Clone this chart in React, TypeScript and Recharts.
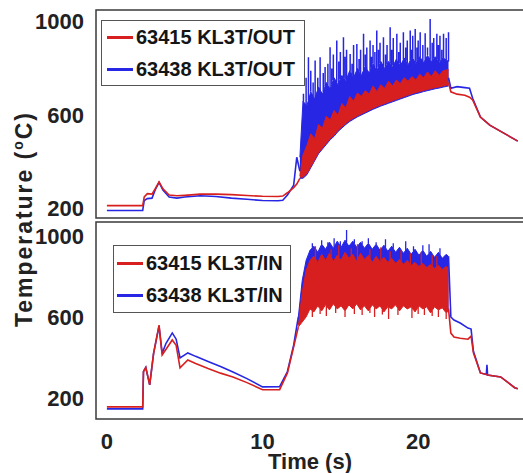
import {
  Area,
  ComposedChart,
  Label,
  Legend,
  Line,
  ReferenceArea,
  XAxis,
  YAxis,
} from "recharts";

const RED = "#d81f1f";
const BLUE = "#2626e4";
const AXIS = "#3a3a3a";
const FONT = "'Liberation Sans', Arial, sans-serif";

// ---------- top panel: KL3T/OUT ----------
const outPreT = [0, 2.3, 2.4, 2.6, 2.9, 3.1, 3.35, 3.6, 4.0, 4.5, 5, 6, 7, 8, 9, 10, 11, 11.3, 11.6, 12.0, 12.2, 12.4];
const outPreRed = [213, 213, 250, 264, 262, 285, 315, 285, 258, 255, 257, 262, 262, 260, 256, 253, 252, 254, 268, 290, 305, 330];
const outPreBlue = [192, 192, 235, 243, 245, 280, 312, 280, 250, 245, 250, 255, 252, 245, 240, 235, 234, 236, 258, 300, 420, 360];

const outBandT = [12.4, 12.6, 12.85, 13.1, 13.35, 13.6, 13.85, 14.1, 14.35, 14.6, 14.85, 15.1, 15.35, 15.6, 15.85, 16.1, 16.35, 16.6, 16.85, 17.1, 17.35, 17.6, 17.85, 18.1, 18.35, 18.6, 18.85, 19.1, 19.35, 19.6, 19.85, 20.1, 20.35, 20.6, 20.85, 21.1, 21.35, 21.6, 21.95];
const outRedLo = [335, 335, 350, 380, 410, 440, 460, 480, 500, 515, 535, 550, 565, 578, 588, 598, 606, 614, 622, 630, 637, 644, 650, 656, 662, 668, 674, 680, 686, 692, 697, 701, 706, 710, 714, 718, 721, 725, 730];
const outRedHi = [340, 430, 470, 520, 500, 560, 545, 595, 580, 620, 600, 650, 630, 680, 660, 695, 680, 705, 690, 725, 700, 730, 715, 745, 725, 750, 735, 760, 745, 765, 750, 775, 760, 785, 765, 790, 770, 790, 795];
const outBlueLo = [330, 330, 345, 375, 405, 435, 455, 475, 495, 510, 530, 545, 560, 573, 583, 593, 601, 609, 617, 625, 632, 639, 645, 651, 657, 663, 669, 675, 681, 687, 692, 696, 701, 705, 709, 713, 716, 720, 725];
const outBlueHi = [420, 660, 640, 700, 670, 720, 690, 740, 710, 760, 730, 770, 745, 790, 760, 800, 770, 810, 780, 820, 790, 830, 800, 830, 805, 840, 810, 845, 815, 850, 820, 850, 825, 855, 830, 850, 825, 845, 830];

const outSpikeT = [12.63, 12.8, 12.95, 13.1, 13.25, 13.38, 13.55, 13.7, 13.9, 14.02, 14.2, 14.34, 14.45, 14.55, 14.77, 14.9, 15.0, 15.2, 15.3, 15.4, 15.63, 15.75, 15.85, 16.06, 16.2, 16.3, 16.49, 16.6, 16.7, 16.91, 17.0, 17.1, 17.22, 17.34, 17.45, 17.55, 17.77, 17.9, 18.0, 18.2, 18.3, 18.4, 18.63, 18.75, 18.85, 19.05, 19.2, 19.3, 19.49, 19.57, 19.65, 19.81, 19.92, 20.0, 20.13, 20.3, 20.45, 20.6, 20.77, 20.9, 21.0, 21.2, 21.3, 21.4, 21.52, 21.63, 21.8, 21.95];
const outSpikeV = [692, 760, 848, 790, 740, 834, 760, 848, 780, 806, 820, 891, 800, 860, 919, 830, 870, 933, 850, 880, 862, 820, 900, 905, 840, 880, 948, 860, 890, 919, 850, 900, 870, 962, 880, 910, 933, 860, 900, 976, 880, 930, 948, 870, 910, 955, 890, 920, 962, 880, 940, 969, 890, 920, 955, 900, 950, 890, 1011, 910, 930, 948, 900, 940, 880, 948, 930, 955];

const outPostT = [21.95, 22.1, 22.5, 23.0, 23.3, 23.5, 24.0, 24.6, 25.5, 26.4];
const outPostRed = [740, 700, 690, 685, 677, 665, 592, 557, 523, 489];
const outPostBlue = [760, 715, 722, 718, 715, 672, 592, 557, 523, 489];

// ---------- bottom panel: KL3T/IN ----------
const inPreT = [0, 2.3, 2.35, 2.5, 2.75, 3.0, 3.35, 3.55, 3.8, 4.2, 4.45, 4.7, 5.2, 5.7, 6.5, 7.3, 8.1, 9, 10, 11.1, 11.6, 12.0, 12.3];
const inPreRed = [155, 155, 330, 350, 264, 420, 560, 412, 440, 486, 460, 348, 387, 370, 345, 322, 303, 275, 240, 240, 323, 452, 550];
const inPreBlue = [145, 145, 330, 350, 264, 420, 555, 420, 470, 521, 490, 397, 422, 405, 380, 355, 328, 295, 254, 255, 330, 460, 600];

const inBandT = [12.3, 12.55, 12.8, 13.05, 13.3, 13.55, 13.8, 14.05, 14.3, 14.55, 14.8, 15.05, 15.3, 15.55, 15.8, 16.05, 16.3, 16.55, 16.8, 17.05, 17.3, 17.55, 17.8, 18.05, 18.3, 18.55, 18.8, 19.05, 19.3, 19.55, 19.8, 20.05, 20.3, 20.55, 20.8, 21.05, 21.3, 21.55, 21.8, 21.95];
const inRedLo = [550, 575, 600, 640, 625, 655, 630, 660, 635, 665, 640, 655, 630, 660, 640, 665, 635, 655, 630, 660, 640, 655, 625, 650, 640, 660, 630, 655, 640, 650, 625, 655, 640, 650, 620, 650, 635, 645, 620, 630];
const inRedHi = [560, 720, 830, 880, 900, 870, 910, 880, 915, 875, 905, 880, 920, 890, 910, 875, 915, 885, 905, 870, 900, 875, 895, 870, 890, 865, 885, 860, 880, 855, 870, 850, 865, 845, 860, 840, 855, 835, 850, 840];
const inBlueLo = [560, 585, 610, 650, 635, 665, 640, 670, 645, 675, 650, 665, 640, 670, 650, 675, 645, 665, 640, 670, 650, 665, 635, 660, 650, 670, 640, 665, 650, 660, 635, 665, 650, 660, 630, 660, 645, 655, 630, 640];
const inBlueHi = [600, 780, 880, 930, 950, 920, 960, 935, 970, 940, 975, 945, 980, 950, 975, 945, 970, 940, 965, 935, 960, 930, 955, 925, 950, 920, 945, 915, 940, 910, 935, 905, 930, 900, 925, 895, 920, 890, 910, 900];

const inBlueSpikeT = [13.2, 13.8, 14.2, 14.6, 15.0, 15.4, 15.9, 16.4, 16.8, 17.3, 17.9, 18.4, 19.2, 19.7, 20.3, 20.7, 21.4];
const inBlueSpikeV = [965, 980, 970, 990, 975, 1030, 985, 975, 990, 970, 985, 965, 975, 950, 955, 960, 940];
const inRedUpT = [13.4, 14.4, 14.9, 15.7, 16.1, 16.9, 17.6, 18.2, 18.9, 19.5, 20.2, 20.9, 21.2];
const inRedUpV = [950, 935, 955, 940, 960, 935, 945, 925, 930, 915, 920, 905, 900];
const inRedDownT = [13.2, 13.7, 14.1, 14.7, 15.3, 15.9, 16.4, 16.9, 17.2, 17.7, 18.1, 18.7, 19.6, 20.0, 20.4, 20.9, 21.3, 21.8];
const inRedDownV = [600, 615, 605, 620, 600, 615, 610, 620, 600, 612, 590, 610, 595, 615, 610, 605, 600, 590];

const inPostT = [21.95, 22.1, 22.3, 22.7, 23.2, 23.4, 23.55, 24.0, 24.38, 24.42, 24.46, 25.3, 26.2, 26.4];
const inPostRed = [640, 520, 501, 495, 490, 505, 422, 323, 315, 315, 313, 303, 250, 245];
const inPostBlue = [900, 600, 585, 570, 545, 540, 430, 323, 315, 363, 313, 303, 250, 245];

const xTicks = Array.from({ length: 27 }, (_, i) => i);
const yLeftTicks = [200, 400, 600, 800, 1000];
const yLabels = [200, 600, 1000];
const outRightTicks = [200, 250, 300, 350, 400, 450, 500, 550, 600, 650, 700, 750, 800, 850, 900, 950, 1000, 1050];
const inRightTicks = [100, 150, ...outRightTicks];

const outLegend = [
  { name: "63415 KL3T/OUT", color: RED },
  { name: "63438 KL3T/OUT", color: BLUE },
];
const inLegend = [
  { name: "63415 KL3T/IN", color: RED },
  { name: "63438 KL3T/IN", color: BLUE },
];

type Row = { t: number; v: number | null };

function line(pre: number[], preV: number[], post: number[], postV: number[]): Row[] {
  const rows: Row[] = pre.map((t, i) => ({ t, v: preV[i] }));
  rows.push({ t: (pre[pre.length - 1] + post[0]) / 2, v: null });
  post.forEach((t, i) => rows.push({ t, v: postV[i] }));
  return rows;
}

function band(ts: number[], lo: number[], hi: number[]) {
  return ts.map((t, i) => ({ t, r: [lo[i], hi[i]] }));
}

function at(ts: number[], vs: number[], t: number) {
  for (let i = 1; i < ts.length; i++) {
    if (t <= ts[i]) {
      const f = (t - ts[i - 1]) / (ts[i] - ts[i - 1]);
      return vs[i - 1] + f * (vs[i] - vs[i - 1]);
    }
  }
  return vs[vs.length - 1];
}

// vertical strokes from the band edge to each read spike value
function spikes(ts: number[], vs: number[], bandT: number[], edge: number[]): Row[] {
  const rows: Row[] = [];
  ts.forEach((t, i) => {
    rows.push({ t, v: at(bandT, edge, t) });
    rows.push({ t, v: vs[i] });
    rows.push({ t, v: null });
  });
  return rows;
}

const tickStyle = { fontFamily: FONT, fontWeight: 700, fontSize: 22, fill: "#222" };
const xDomain: [number, number] = [-0.7, 26.8];
const tickLine = { stroke: AXIS, strokeWidth: 1.2 };

function LegendBox({ items, style }: { items: { name: string; color: string }[]; style: React.CSSProperties }) {
  return (
    <div
      style={{
        border: "1.5px solid #555",
        background: "#fff",
        fontFamily: FONT,
        fontWeight: 700,
        fontSize: 20,
        color: "#151515",
        whiteSpace: "nowrap",
        ...style,
      }}
    >
      {items.map((it) => (
        <div key={it.name} style={{ display: "flex", alignItems: "center", height: 32 }}>
          <div style={{ width: 26, height: 3, background: it.color, marginRight: 3 }} />
          <span>{it.name}</span>
        </div>
      ))}
    </div>
  );
}

// inward tick marks on all four sides, drawn by mirrored axes
function tickAxes(yDomain: [number, number], leftTicks: number[], rightTicks: number[]) {
  return [
    <XAxis key="tb" xAxisId="tb" orientation="bottom" mirror type="number" domain={xDomain} allowDataOverflow ticks={xTicks} interval={0} tick={false} tickSize={5} height={0} axisLine={false} tickLine={tickLine} />,
    <XAxis key="tt" xAxisId="tt" orientation="top" mirror type="number" domain={xDomain} allowDataOverflow ticks={xTicks} interval={0} tick={false} tickSize={4} height={0} axisLine={false} tickLine={tickLine} />,
    <YAxis key="tl" yAxisId="tl" orientation="left" mirror type="number" domain={yDomain} allowDataOverflow ticks={leftTicks} interval={0} tick={false} tickSize={6} width={0} axisLine={false} tickLine={tickLine} />,
    <YAxis key="tr" yAxisId="tr" orientation="right" mirror type="number" domain={yDomain} allowDataOverflow ticks={rightTicks} interval={0} tick={false} tickSize={5} width={0} axisLine={false} tickLine={tickLine} />,
  ];
}

export default function App() {
  const outDomain: [number, number] = [160, 1050];
  const inDomain: [number, number] = [95, 1070];

  return (
    <div style={{ position: "absolute", left: 0, top: 0, width: 523, height: 473, background: "#fff", overflow: "hidden" }}>
      <div style={{ position: "absolute", left: 0, top: 0 }}>
        <ComposedChart width={525} height={220} margin={{ top: 10, right: 1, bottom: 2, left: 0 }}>
          <XAxis dataKey="t" type="number" domain={xDomain} allowDataOverflow ticks={xTicks} tick={false} tickLine={false} axisLine={false} height={0} />
          <YAxis
            domain={outDomain}
            allowDataOverflow
            type="number"
            ticks={yLeftTicks}
            interval={0}
            tickFormatter={(v: number) => (yLabels.includes(v) ? String(v) : "")}
            tick={tickStyle}
            tickLine={false}
            tickMargin={6}
            width={96}
            axisLine={false}
          />
          {tickAxes(outDomain, yLeftTicks, outRightTicks)}
          <Area data={band(outBandT, outBlueLo, outBlueHi)} dataKey="r" type="linear" fill={BLUE} fillOpacity={1} stroke={BLUE} strokeWidth={1} isAnimationActive={false} />
          <Line data={spikes(outSpikeT, outSpikeV, outBandT, outBlueHi)} dataKey="v" stroke={BLUE} strokeWidth={1.5} dot={false} activeDot={false} isAnimationActive={false} />
          <Line data={line(outPreT, outPreBlue, outPostT, outPostBlue)} dataKey="v" stroke={BLUE} strokeWidth={1.6} dot={false} activeDot={false} isAnimationActive={false} />
          <Area data={band(outBandT, outRedLo, outRedHi)} dataKey="r" type="linear" fill={RED} fillOpacity={1} stroke={RED} strokeWidth={1} isAnimationActive={false} />
          <Line data={line(outPreT, outPreRed, outPostT, outPostRed)} dataKey="v" stroke={RED} strokeWidth={1.6} dot={false} activeDot={false} isAnimationActive={false} />
          <ReferenceArea x1={xDomain[0]} x2={xDomain[1]} y1={outDomain[0]} y2={outDomain[1]} fill="none" stroke={AXIS} strokeWidth={1.5} ifOverflow="visible" />
          <Legend
            layout="horizontal"
            verticalAlign="middle"
            align="center"
            wrapperStyle={{ left: 101, top: 20, width: "auto", height: "auto" }}
            content={() => <LegendBox items={outLegend} style={{ padding: "0px 9px 0px 5px" }} />}
          />
        </ComposedChart>
      </div>

      <div style={{ position: "absolute", left: 0, top: 220 }}>
        <ComposedChart width={525} height={253} margin={{ top: 2, right: 1, bottom: 0, left: 0 }}>
          <XAxis
            dataKey="t"
            type="number"
            domain={xDomain}
            allowDataOverflow
            ticks={xTicks}
            interval={0}
            tickFormatter={(v: number) => (v % 10 === 0 ? String(v) : "")}
            tick={tickStyle}
            tickLine={false}
            tickMargin={8}
            height={54}
            axisLine={false}
          >
            <Label
              value="Time (s)"
              position="insideBottom"
              offset={4}
              style={{ fontFamily: FONT, fontWeight: 700, fontSize: 22, fill: "#222" }}
            />
          </XAxis>
          <YAxis
            domain={inDomain}
            allowDataOverflow
            type="number"
            ticks={yLeftTicks}
            interval={0}
            tickFormatter={(v: number) => (yLabels.includes(v) ? String(v) : "")}
            tick={tickStyle}
            tickLine={false}
            tickMargin={6}
            width={96}
            axisLine={false}
          />
          {tickAxes(inDomain, yLeftTicks, inRightTicks)}
          <Area data={band(inBandT, inBlueLo, inBlueHi)} dataKey="r" type="linear" fill={BLUE} fillOpacity={1} stroke={BLUE} strokeWidth={1} isAnimationActive={false} />
          <Line data={spikes(inBlueSpikeT, inBlueSpikeV, inBandT, inBlueHi)} dataKey="v" stroke={BLUE} strokeWidth={1.3} dot={false} activeDot={false} isAnimationActive={false} />
          <Line data={line(inPreT, inPreBlue, inPostT, inPostBlue)} dataKey="v" stroke={BLUE} strokeWidth={1.6} dot={false} activeDot={false} isAnimationActive={false} />
          <Area data={band(inBandT, inRedLo, inRedHi)} dataKey="r" type="linear" fill={RED} fillOpacity={1} stroke={RED} strokeWidth={1} isAnimationActive={false} />
          <Line data={spikes(inRedUpT, inRedUpV, inBandT, inRedHi)} dataKey="v" stroke={RED} strokeWidth={1.3} dot={false} activeDot={false} isAnimationActive={false} />
          <Line data={spikes(inRedDownT, inRedDownV, inBandT, inRedLo)} dataKey="v" stroke={RED} strokeWidth={1.3} dot={false} activeDot={false} isAnimationActive={false} />
          <Line data={line(inPreT, inPreRed, inPostT, inPostRed)} dataKey="v" stroke={RED} strokeWidth={1.6} dot={false} activeDot={false} isAnimationActive={false} />
          <ReferenceArea x1={xDomain[0]} x2={xDomain[1]} y1={inDomain[0]} y2={inDomain[1]} fill="none" stroke={AXIS} strokeWidth={1.5} ifOverflow="visible" />
          <Legend
            layout="horizontal"
            verticalAlign="middle"
            align="center"
            wrapperStyle={{ left: 113, top: 25, width: "auto", height: "auto" }}
            content={() => <LegendBox items={inLegend} style={{ padding: "1px 7px 1px 3px" }} />}
          />
        </ComposedChart>
      </div>

      <svg width={60} height={473} style={{ position: "absolute", left: 0, top: 0 }}>
        <text
          x={32}
          y={220}
          transform="rotate(-90 32 220)"
          textAnchor="middle"
          textLength={214}
          lengthAdjust="spacing"
          style={{ fontFamily: FONT, fontWeight: 700, fontSize: 23, fill: "#222" }}
        >
          Temperature (<tspan fontSize={14} dy={-9}>o</tspan>
          <tspan dy={9}>C)</tspan>
        </text>
      </svg>
    </div>
  );
}
